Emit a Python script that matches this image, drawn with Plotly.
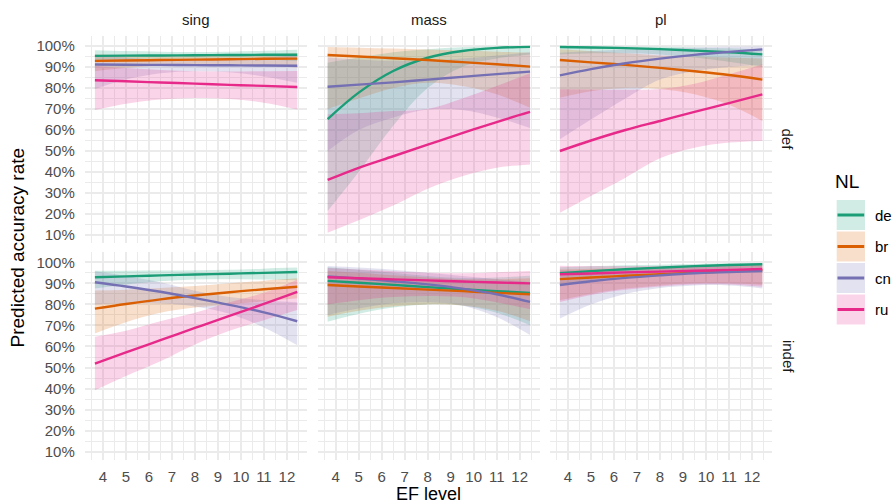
import plotly.graph_objects as go

# ---------------- data ----------------
ef_level = [3.65, 5.0, 6.5, 8.0, 9.5, 11.0, 12.45]
nl_groups = ["de", "br", "cn", "ru"]
nl_colors = ["#1B9E77", "#D95F02", "#7570B3", "#E7298A"]
nl_fills = ["rgba(27,158,119,0.2)", "rgba(217,95,2,0.2)", "rgba(117,112,179,0.2)", "rgba(231,41,138,0.2)"]
number_levels = ["sing", "mass", "pl"]
def_levels = ["def", "indef"]
x_tick_vals = [4, 5, 6, 7, 8, 9, 10, 11, 12]
y_tick_vals = [10, 20, 30, 40, 50, 60, 70, 80, 90, 100]
y_tick_text = ["10%", "20%", "30%", "40%", "50%", "60%", "70%", "80%", "90%", "100%"]

# sing / def
sing_def_de_fit = [95.3, 95.4, 95.5, 95.6, 95.7, 95.8, 95.8]
sing_def_de_lo = [92.3, 93.0, 93.6, 93.9, 93.9, 93.6, 92.8]
sing_def_de_hi = [98.0, 97.6, 97.3, 97.1, 97.3, 97.7, 98.2]
sing_def_br_fit = [92.9, 93.1, 93.3, 93.5, 93.7, 93.9, 94.0]
sing_def_br_lo = [88.0, 89.5, 90.7, 91.2, 91.2, 90.7, 89.8]
sing_def_br_hi = [95.9, 95.5, 95.2, 95.2, 95.5, 96.0, 96.6]
sing_def_cn_fit = [91.2, 91.1, 91.0, 90.9, 90.8, 90.7, 90.6]
sing_def_cn_lo = [79.5, 84.0, 87.0, 88.0, 87.5, 85.5, 82.5]
sing_def_cn_hi = [95.9, 94.5, 93.5, 93.3, 93.5, 94.4, 95.7]
sing_def_ru_fit = [83.7, 83.2, 82.6, 82.1, 81.5, 81.0, 80.5]
sing_def_ru_lo = [69.5, 72.5, 74.5, 75.2, 74.8, 73.0, 69.8]
sing_def_ru_hi = [90.5, 89.5, 88.6, 88.0, 87.8, 88.0, 88.1]

# mass / def
mass_def_de_fit = [65.2, 77.8, 88.1, 94.4, 97.6, 99.1, 99.6]
mass_def_de_lo = [21.4, 40.0, 62.0, 80.0, 90.0, 94.0, 96.0]
mass_def_de_hi = [92.0, 94.5, 97.0, 98.5, 99.4, 99.8, 99.9]
mass_def_br_fit = [95.7, 95.0, 94.2, 93.3, 92.3, 91.3, 90.2]
mass_def_br_lo = [70.0, 75.0, 80.0, 82.5, 81.0, 77.0, 70.6]
mass_def_br_hi = [99.5, 99.2, 98.8, 98.3, 97.8, 97.3, 96.8]
mass_def_cn_fit = [80.6, 81.6, 82.7, 84.0, 85.3, 86.6, 87.8]
mass_def_cn_lo = [50.0, 60.0, 66.0, 69.8, 69.5, 66.0, 61.0]
mass_def_cn_hi = [94.5, 93.5, 93.0, 93.0, 94.0, 95.5, 97.0]
mass_def_ru_fit = [36.2, 42.0, 47.5, 53.0, 58.5, 63.8, 68.6]
mass_def_ru_lo = [11.1, 17.0, 24.0, 32.0, 38.0, 42.0, 43.6]
mass_def_ru_hi = [67.5, 68.0, 69.0, 70.0, 75.0, 81.0, 87.0]

# pl / def
pl_def_de_fit = [99.5, 99.3, 99.0, 98.5, 97.8, 97.0, 96.0]
pl_def_de_lo = [96.0, 96.5, 96.5, 96.0, 94.5, 92.5, 90.0]
pl_def_de_hi = [99.9, 99.85, 99.8, 99.6, 99.3, 98.9, 98.3]
pl_def_br_fit = [93.3, 92.2, 91.0, 89.6, 88.0, 86.2, 84.0]
pl_def_br_lo = [75.4, 78.5, 80.0, 79.5, 77.0, 72.0, 64.3]
pl_def_br_hi = [98.4, 97.5, 96.5, 95.5, 95.0, 94.5, 94.0]
pl_def_cn_fit = [86.0, 89.0, 91.8, 94.0, 95.8, 97.2, 98.4]
pl_def_cn_lo = [55.6, 65.0, 75.0, 84.0, 88.0, 90.0, 91.0]
pl_def_cn_hi = [96.8, 97.5, 98.3, 98.9, 99.3, 99.6, 99.8]
pl_def_ru_fit = [50.0, 55.0, 60.0, 64.3, 68.6, 72.8, 77.0]
pl_def_ru_lo = [20.6, 28.6, 37.3, 46.5, 51.5, 54.0, 54.8]
pl_def_ru_hi = [79.4, 79.3, 79.2, 79.5, 82.0, 86.5, 91.3]

# sing / indef
sing_indef_de_fit = [92.9, 93.3, 93.8, 94.2, 94.6, 95.0, 95.4]
sing_indef_de_lo = [87.5, 89.5, 91.0, 91.8, 92.0, 91.8, 91.5]
sing_indef_de_hi = [96.0, 96.0, 96.1, 96.2, 96.5, 97.0, 97.5]
sing_indef_br_fit = [78.0, 80.2, 82.4, 84.2, 85.8, 87.2, 88.4]
sing_indef_br_lo = [66.2, 71.5, 76.0, 78.5, 80.0, 81.5, 82.9]
sing_indef_br_hi = [86.6, 87.0, 87.8, 88.7, 90.0, 91.3, 92.4]
sing_indef_cn_fit = [90.5, 88.5, 86.0, 83.0, 79.8, 76.2, 72.0]
sing_indef_cn_lo = [80.0, 80.5, 80.5, 79.0, 75.5, 69.0, 60.6]
sing_indef_cn_hi = [95.7, 93.5, 90.5, 86.5, 83.5, 82.0, 81.0]
sing_indef_ru_fit = [51.9, 57.2, 63.0, 68.8, 74.6, 80.2, 85.9]
sing_indef_ru_lo = [39.2, 46.0, 53.0, 61.0, 67.5, 72.5, 77.3]
sing_indef_ru_hi = [64.6, 67.5, 72.0, 76.0, 81.0, 85.5, 91.7]

# mass / indef
mass_indef_de_fit = [91.2, 90.3, 89.3, 88.2, 87.2, 86.3, 85.5]
mass_indef_de_lo = [71.7, 75.5, 78.5, 80.0, 79.5, 76.0, 70.1]
mass_indef_de_hi = [97.7, 96.5, 95.0, 93.5, 92.5, 92.8, 93.6]
mass_indef_br_fit = [89.2, 88.5, 87.8, 87.0, 86.3, 85.5, 84.8]
mass_indef_br_lo = [74.1, 77.0, 79.0, 80.0, 79.5, 77.0, 72.0]
mass_indef_br_hi = [96.0, 95.0, 93.8, 92.8, 92.0, 92.0, 92.4]
mass_indef_cn_fit = [93.3, 92.3, 91.0, 89.5, 87.5, 84.8, 81.2]
mass_indef_cn_lo = [75.0, 78.0, 80.5, 81.0, 79.5, 74.0, 65.4]
mass_indef_cn_hi = [98.2, 97.5, 96.5, 95.0, 93.5, 92.0, 90.7]
mass_indef_ru_fit = [92.9, 92.4, 91.9, 91.4, 90.9, 90.4, 90.0]
mass_indef_ru_lo = [80.0, 82.0, 83.5, 84.0, 83.5, 81.0, 77.7]
mass_indef_ru_hi = [97.3, 96.6, 95.8, 95.0, 94.8, 95.3, 95.9]

# pl / indef
pl_indef_de_fit = [94.8, 95.8, 96.7, 97.5, 98.2, 98.7, 99.1]
pl_indef_de_lo = [89.0, 91.5, 93.5, 95.0, 96.2, 97.0, 97.5]
pl_indef_de_hi = [97.6, 98.1, 98.6, 98.9, 99.2, 99.5, 99.7]
pl_indef_br_fit = [92.0, 92.8, 93.6, 94.4, 95.1, 95.7, 96.3]
pl_indef_br_lo = [82.0, 85.0, 87.5, 89.0, 90.0, 90.0, 89.2]
pl_indef_br_hi = [96.6, 96.9, 97.3, 97.7, 98.1, 98.5, 98.8]
pl_indef_cn_fit = [89.2, 91.0, 92.6, 93.8, 94.8, 95.4, 95.9]
pl_indef_cn_lo = [73.3, 80.0, 85.0, 87.8, 89.0, 89.0, 87.6]
pl_indef_cn_hi = [96.1, 96.2, 97.0, 97.6, 98.0, 98.1, 98.2]
pl_indef_ru_fit = [94.3, 94.7, 95.2, 95.6, 96.0, 96.4, 96.8]
pl_indef_ru_lo = [81.2, 84.5, 87.0, 88.5, 89.5, 89.5, 88.4]
pl_indef_ru_hi = [98.4, 98.2, 98.2, 98.3, 98.6, 98.9, 99.2]

panel_data = {}
for d in def_levels:
    for n in number_levels:
        panel_data[(n, d)] = [
            (globals()[f"{n}_{d}_{g}_fit"], globals()[f"{n}_{d}_{g}_lo"], globals()[f"{n}_{d}_{g}_hi"])
            for g in nl_groups
        ]

# ---------------- layout geometry (pixels) ----------------
W, H = 896, 503
col_px = [(84.8, 306.9), (317.5, 539.7), (549.8, 772.0)]
row_px = [(35.5, 243.4), (251.8, 460.1)]
x_range = [3.21, 12.87]
y_range = [6, 105]

def px2x(px):
    return px / W

def py2y(py):
    return 1 - py / H

fig = go.Figure()
GRID = "#EBEBEB"
FONT_FAMILY = "Liberation Sans, Arial, sans-serif"
TICK_FONT = dict(family=FONT_FAMILY, size=15, color="#4D4D4D")

layout_axes = {}
for r, d in enumerate(def_levels):
    for c, n in enumerate(number_levels):
        k = r * 3 + c + 1
        xa = "x" if k == 1 else f"x{k}"
        ya = "y" if k == 1 else f"y{k}"
        groups = panel_data[(n, d)]
        # ribbons
        for gi, (fit, lo, hi) in enumerate(groups):
            fig.add_trace(go.Scatter(x=ef_level, y=lo, mode="lines", line=dict(width=0, shape="spline"),
                                     xaxis=xa, yaxis=ya, showlegend=False, hoverinfo="skip"))
            fig.add_trace(go.Scatter(x=ef_level, y=hi, mode="lines", line=dict(width=0, shape="spline"),
                                     fill="tonexty", fillcolor=nl_fills[gi],
                                     xaxis=xa, yaxis=ya, showlegend=False, hoverinfo="skip"))
        # lines
        for gi, (fit, lo, hi) in enumerate(groups):
            fig.add_trace(go.Scatter(x=ef_level, y=fit, mode="lines",
                                     line=dict(width=2.4, color=nl_colors[gi], shape="spline"),
                                     xaxis=xa, yaxis=ya, showlegend=False, name=nl_groups[gi]))
        xkey = "xaxis" if k == 1 else f"xaxis{k}"
        ykey = "yaxis" if k == 1 else f"yaxis{k}"
        layout_axes[xkey] = dict(
            domain=[px2x(col_px[c][0]), px2x(col_px[c][1])], anchor=ya, range=x_range,
            tickmode="array", tickvals=x_tick_vals, showticklabels=(r == 1),
            ticks="outside", ticklen=3, tickcolor="rgba(0,0,0,0)",
            showgrid=True, gridcolor=GRID, gridwidth=1.6, zeroline=False, showline=False,
            minor=dict(tick0=0.5, dtick=1, showgrid=True, gridcolor=GRID, gridwidth=0.8),
            tickfont=TICK_FONT, fixedrange=True,
        )
        layout_axes[ykey] = dict(
            domain=[py2y(row_px[r][1]), py2y(row_px[r][0])], anchor=xa, range=y_range,
            tickmode="array", tickvals=y_tick_vals, ticktext=y_tick_text, showticklabels=(c == 0),
            ticks="outside", ticklen=6, tickcolor="rgba(0,0,0,0)",
            showgrid=True, gridcolor=GRID, gridwidth=1.6, zeroline=False, showline=False,
            minor=dict(tick0=5, dtick=10, showgrid=True, gridcolor=GRID, gridwidth=0.8),
            tickfont=TICK_FONT, fixedrange=True,
        )

annotations = []
STRIP_FONT = dict(family=FONT_FAMILY, size=15, color="#1A1A1A")
for c, n in enumerate(number_levels):
    annotations.append(dict(text=n, x=px2x((col_px[c][0] + col_px[c][1]) / 2), y=py2y(20),
                            xref="paper", yref="paper", showarrow=False, font=STRIP_FONT,
                            xanchor="center", yanchor="middle"))
for r, d in enumerate(def_levels):
    annotations.append(dict(text=d, x=px2x(788), y=py2y((row_px[r][0] + row_px[r][1]) / 2),
                            xref="paper", yref="paper", showarrow=False, font=STRIP_FONT,
                            textangle=90, xanchor="center", yanchor="middle"))
TITLE_FONT = dict(family=FONT_FAMILY, size=19, color="#000000")
annotations.append(dict(text="Predicted accuracy rate", x=px2x(17), y=py2y(247.5), xref="paper", yref="paper",
                        showarrow=False, font=TITLE_FONT, textangle=-90, xanchor="center", yanchor="middle"))
annotations.append(dict(text="EF level", x=px2x(428.4), y=py2y(494), xref="paper", yref="paper",
                        showarrow=False, font=dict(family=FONT_FAMILY, size=18, color="#000000"),
                        height=14, borderpad=0, xanchor="center", yanchor="middle"))

# legend (drawn manually to mimic ggplot keys)
shapes = []
annotations.append(dict(text="NL", x=px2x(833), y=py2y(181), xref="paper", yref="paper", showarrow=False,
                        font=TITLE_FONT, xanchor="left", yanchor="middle"))
for gi, g in enumerate(nl_groups):
    top = 200 + gi * 31.5
    bot = top + 30
    mid = (top + bot) / 2
    shapes.append(dict(type="rect", xref="paper", yref="paper", x0=px2x(836.7), x1=px2x(865),
                       y0=py2y(bot), y1=py2y(top), fillcolor=nl_fills[gi], line=dict(width=0), layer="above"))
    shapes.append(dict(type="line", xref="paper", yref="paper", x0=px2x(837.5), x1=px2x(864.2),
                       y0=py2y(mid), y1=py2y(mid), line=dict(color=nl_colors[gi], width=3), layer="above"))
    annotations.append(dict(text=g, x=px2x(873), y=py2y(mid), xref="paper", yref="paper", showarrow=False,
                            font=dict(family=FONT_FAMILY, size=15, color="#000000"),
                            xanchor="left", yanchor="middle"))

fig.update_layout(
    width=W, height=H, margin=dict(l=0, r=0, t=0, b=0),
    paper_bgcolor="white", plot_bgcolor="white", showlegend=False,
    annotations=annotations, shapes=shapes, **layout_axes,
)

fig.write_html("out.html", config={"displayModeBar": False},
               post_script="document.body.style.margin='0';document.body.style.padding='0';")
